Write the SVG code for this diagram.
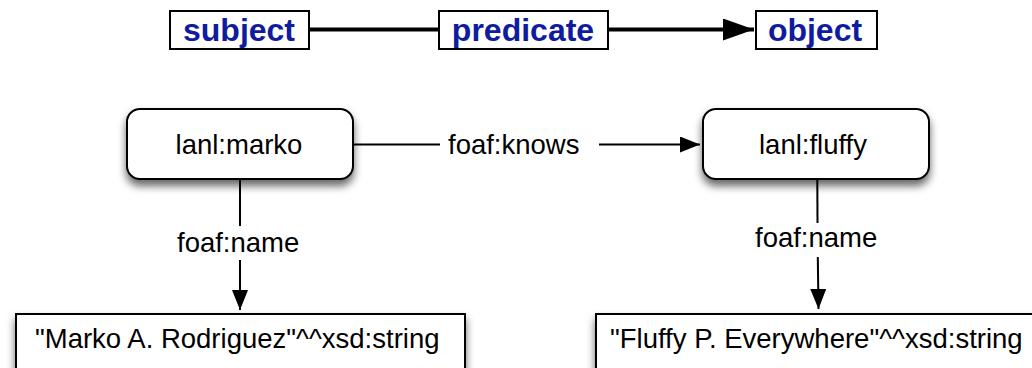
<svg xmlns="http://www.w3.org/2000/svg" width="1032" height="368" viewBox="0 0 1032 368">
<style>
.top{fill:#fff;stroke:#000;stroke-width:2}
.tl{font-family:"Liberation Sans",Arial,sans-serif;font-weight:bold;font-size:32px;fill:#101c9e;text-anchor:middle}
.nd{fill:#fff;stroke:#000;stroke-width:2;filter:url(#sh)}
.t{font-family:"Liberation Sans",Arial,sans-serif;font-size:27.5px;fill:#000}
.c{fill:none;stroke:#000;stroke-width:2}
.ct{fill:none;stroke:#000;stroke-width:4}
</style>
<defs>
<filter id="sh" x="-10%" y="-20%" width="120%" height="160%">
<feDropShadow dx="0" dy="6" stdDeviation="4.5" flood-color="#000" flood-opacity="0.6"/>
</filter>
<marker id="arr" markerUnits="userSpaceOnUse" markerWidth="20" markerHeight="16" refX="20" refY="8" orient="auto">
<path d="M0,0 L20,8 L0,16 z" fill="#000"/>
</marker>
<marker id="arrBig" markerUnits="userSpaceOnUse" markerWidth="31" markerHeight="22" refX="31" refY="11" orient="auto">
<path d="M0,0 L31,11 L0,22 z" fill="#000"/>
</marker>
</defs>
<rect width="1032" height="368" fill="#fff"/>
<g id="connectors">
<line class="ct" x1="309" y1="29.5" x2="439" y2="29.5"/>
<line class="ct" x1="608" y1="29.5" x2="754" y2="29.5" marker-end="url(#arrBig)"/>
<line class="c" x1="353" y1="144.5" x2="440" y2="144.5"/>
<line class="c" x1="599" y1="144.5" x2="700" y2="144.5" marker-end="url(#arr)"/>
<line class="c" x1="240" y1="179" x2="240" y2="226"/>
<line class="c" x1="240" y1="260" x2="240" y2="310" marker-end="url(#arr)"/>
<line class="c" x1="817.3" y1="179" x2="817.5" y2="223"/>
<line class="c" x1="817.8" y1="257" x2="818.5" y2="309" marker-end="url(#arr)"/>
<text class="t" x="448" y="154">foaf:knows</text>
<text class="t" x="177" y="252">foaf:name</text>
<text class="t" x="755" y="247">foaf:name</text>
</g>
<g id="legend-subject">
<rect class="top" x="170" y="11" width="139" height="38"/>
<text class="tl" x="239" y="41">subject</text>
</g>
<g id="legend-predicate">
<rect class="top" x="439" y="11" width="169" height="38"/>
<text class="tl" x="523" y="41">predicate</text>
</g>
<g id="legend-object">
<rect class="top" x="756" y="11" width="121" height="38"/>
<text class="tl" x="815" y="41">object</text>
</g>
<g id="lanl-marko">
<rect class="nd" x="127" y="109" width="226" height="70" rx="13"/>
<text class="t" x="239" y="154" text-anchor="middle">lanl:marko</text>
</g>
<g id="lanl-fluffy">
<rect class="nd" x="703" y="109" width="226" height="70" rx="13"/>
<text class="t" x="813" y="154" text-anchor="middle">lanl:fluffy</text>
</g>
<g id="marko-name">
<rect class="nd" x="16" y="314" width="449" height="70"/>
<text class="t" x="35" y="347.5">"Marko A. Rodriguez"^^xsd:string</text>
</g>
<g id="fluffy-name">
<rect class="nd" x="596" y="314" width="460" height="70"/>
<text class="t" x="610" y="347.5">"Fluffy P. Everywhere"^^xsd:string</text>
</g>
</svg>
